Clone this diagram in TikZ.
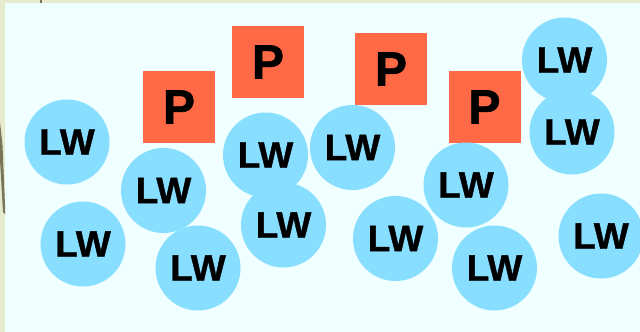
\documentclass[tikz,border=0pt]{standalone}
\usepackage{fontspec}
\setmainfont{Liberation Sans}[BoldFeatures={FakeBold=1.2}]
\usepackage{tikz}
\definecolor{frame}{HTML}{E6EBCE}
\definecolor{pane}{HTML}{F0FFFF}
\definecolor{olive}{HTML}{7A7458}
\definecolor{lwblue}{HTML}{88DEFF}
\definecolor{ptomato}{HTML}{FF6946}
\begin{document}
\begin{tikzpicture}[
  x=1pt, y=-1pt,
  lw/.style={
    circle, fill=lwblue, draw=none,
    minimum size=85pt, inner sep=0pt,
    font=\fontsize{37}{37}\selectfont\bfseries % etichetta dei cerchi
  },
  pbox/.style={
    rectangle, fill=ptomato, draw=none,
    minimum size=72pt, inner sep=0pt,
    font=\fontsize{48}{48}\selectfont\bfseries
  }
]
\useasboundingbox (0,0) rectangle (640,332);
% sfondo
\fill[frame] (0,0) rectangle (640,332);
\fill[pane] (5,2.5) rectangle (640,332);
\fill[olive] (39.5,0) rectangle (42,2.5);
\fill[olive] (0,122) -- (2.5,145) -- (5,205) -- (5,214) -- (3,212) -- (0,160) -- cycle;
% quadrati
\node[pbox] (p1) at (179,107) {P};
\node[pbox] (p2) at (268,62) {P};
\node[pbox] (p3) at (391,69) {P};
\node[pbox] (p4) at (484.5,107) {P};
% cerchi
\node[lw] (lw1) at (67,142) {LW};
\node[lw] (lw2) at (83,244) {LW};
\node[lw] (lw3) at (163.5,190.5) {LW};
\node[lw] (lw4) at (198,268) {LW};
\node[lw] (lw5) at (265.5,155) {LW};
\node[lw] (lw6) at (283.5,225) {LW};
\node[lw] (lw7) at (352.5,147.5) {LW};
\node[lw] (lw8) at (395.5,238.5) {LW};
\node[lw] (lw9) at (466,185) {LW};
\node[lw] (lw10) at (494.5,268) {LW};
\node[lw] (lw11) at (564.5,60) {LW};
\node[lw] (lw12) at (572,132) {LW};
\node[lw] (lw13) at (601,236) {LW};
\end{tikzpicture}
\end{document}
